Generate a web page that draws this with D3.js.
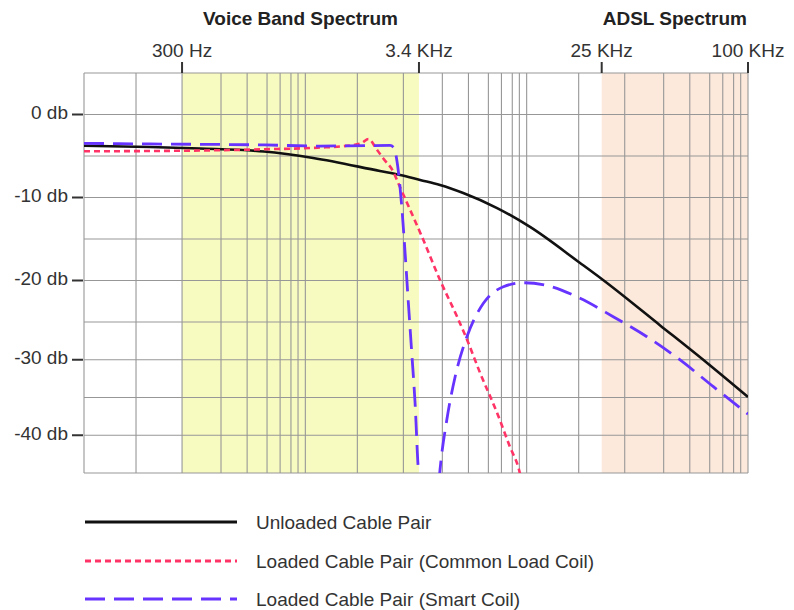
<!DOCTYPE html>
<html>
<head>
<meta charset="utf-8">
<script src="https://cdn.jsdelivr.net/npm/d3@7"></script>
<style>
  html, body { margin: 0; padding: 0; background: #fff; }
  svg { display: block; font-family: "Liberation Sans", Arial, Helvetica, sans-serif; }
</style>
</head>
<body>
<svg id="chart" width="794" height="610"></svg>
<script>
// ---------- data ----------
const freqTicks = [300, 3400, 25000, 100000];
const freqTickLabels = ["300 Hz", "3.4 KHz", "25 KHz", "100 KHz"];
const dbTicks = [0, -10, -20, -30, -40];
const dbTickLabels = ["0 db", "-10 db", "-20 db", "-30 db", "-40 db"];
const bandNames = ["Voice Band Spectrum", "ADSL Spectrum"];
const bandStart = [300, 25000];
const bandEnd = [3400, 100000];
const seriesNames = ["Unloaded Cable Pair", "Loaded Cable Pair (Common Load Coil)", "Loaded Cable Pair (Smart Coil)"];

// [frequency Hz, attenuation dB]
const unloaded = [[100,-3.76],[230,-3.92],[346,-4.10],[585,-4.46],[1150,-5.24],[2490,-6.81],[2930,-7.29],[3430,-7.89],[3940,-8.49],[4800,-9.46],[6670,-11.27],[10650,-13.55],[20300,-17.89],[25300,-19.94],[39100,-25.45],[58700,-30.43],[100000,-34.93]];
const commonLoadCoil = [[100,-4.43],[230,-4.40],[346,-4.34],[585,-4.19],[1225,-4.0],[1860,-3.73],[2100,-3.43],[2240,-2.95],[2430,-4.28],[2560,-5.28],[2780,-6.89],[2890,-8.29],[3095,-10.66],[3480,-14.76],[3940,-19.94],[4570,-24.40],[4950,-27.38],[5585,-31.75],[6670,-37.05],[7790,-41.56],[8960,-44.6],[9300,-46]];
const smartCoil = [[100,-3.47],[230,-3.55],[585,-3.67],[1225,-3.80],[2710,-3.73],[2800,-4.04],[2850,-5.24],[2900,-7.29],[2965,-11.1],[3044,-16.69],[3128,-22.71],[3215,-29.1],[3300,-35.73],[3385,-44.6],[3415,-46],null,[3915,-46],[3940,-44.6],[4170,-37.98],[4490,-32.25],[4940,-26.95],[5750,-22.75],[7180,-20.75],[9550,-20.27],[13900,-20.6],[20300,-22.14],[27500,-24.36],[35700,-26.95],[46300,-30.03],[62800,-33.57],[100000,-37.19]];

// ---------- layout ----------
const plotLeft = 84, plotRight = 748, plotTop = 73, plotBottom = 473;
const decades = [100, 1000, 10000];
// drawn position of digits 1..9 inside each decade (the reference uses a stylised log grid)
const decadeProfile = [0, 0.235, 0.443, 0.619, 0.737, 0.827, 0.886, 0.935, 0.967];
const decadeW = (plotRight - plotLeft) / decades.length;

const gridFreqs = [], gridPos = [];
decades.forEach((d, i) => {
  decadeProfile.forEach((p, k) => {
    gridFreqs.push(d * (k + 1));
    gridPos.push(plotLeft + (i + p) * decadeW);
  });
});
gridFreqs.push(100000); gridPos.push(plotRight);

const x = d3.scaleLinear().domain(gridFreqs).range(gridPos);
// db grid of the reference is slightly compressed below -25 db
const y = d3.scaleLinear().domain([5, -25, -45])
  .range([plotTop, plotTop + (plotBottom - plotTop) * 0.6225, plotBottom]);
const dbGrid = d3.range(5, -46, -5);

const svg = d3.select("#chart");

// bands
svg.append("g").selectAll("rect").data(bandNames).join("rect")
  .attr("x", (d, i) => x(bandStart[i]))
  .attr("y", plotTop)
  .attr("width", (d, i) => x(bandEnd[i]) - x(bandStart[i]))
  .attr("height", plotBottom - plotTop)
  .attr("fill", (d, i) => i === 0 ? "#f8fbc0" : "#fde9dc");

// grid
const grid = svg.append("g").attr("stroke", "#979797").attr("stroke-width", 1.1);
grid.selectAll("line.v").data(gridFreqs).join("line")
  .attr("class", "v")
  .attr("x1", d => x(d)).attr("x2", d => x(d))
  .attr("y1", plotTop).attr("y2", plotBottom);
grid.selectAll("line.h").data(dbGrid).join("line")
  .attr("class", "h")
  .attr("x1", plotLeft).attr("x2", plotRight)
  .attr("y1", d => y(d)).attr("y2", d => y(d));

// band titles
svg.append("g").selectAll("text").data(bandNames).join("text")
  .attr("x", (d, i) => (x(bandStart[i]) + x(bandEnd[i])) / 2)
  .attr("y", 25)
  .attr("text-anchor", "middle")
  .attr("font-size", 19).attr("font-weight", "bold").attr("fill", "#222")
  .text(d => d);

// top axis
const xAxis = svg.append("g");
xAxis.selectAll("line").data(freqTicks).join("line")
  .attr("x1", d => x(d)).attr("x2", d => x(d))
  .attr("y1", plotTop - 11).attr("y2", plotTop)
  .attr("stroke", "#333").attr("stroke-width", 2);
xAxis.selectAll("text").data(freqTicks).join("text")
  .attr("x", d => x(d)).attr("y", plotTop - 16)
  .attr("text-anchor", "middle")
  .attr("font-size", 19).attr("fill", "#333")
  .text((d, i) => freqTickLabels[i]);

// left axis
const yAxis = svg.append("g");
yAxis.selectAll("line").data(dbTicks).join("line")
  .attr("x1", plotLeft - 12).attr("x2", plotLeft - 1)
  .attr("y1", d => y(d)).attr("y2", d => y(d))
  .attr("stroke", "#333").attr("stroke-width", 2);
yAxis.selectAll("text").data(dbTicks).join("text")
  .attr("x", plotLeft - 16).attr("y", d => y(d) - 2)
  .attr("dy", "0.35em")
  .attr("text-anchor", "end")
  .attr("font-size", 19).attr("fill", "#333")
  .text((d, i) => dbTickLabels[i]);

// clip
svg.append("clipPath").attr("id", "plotclip")
  .append("rect").attr("x", plotLeft).attr("y", plotTop)
  .attr("width", plotRight - plotLeft).attr("height", plotBottom - plotTop);

const line = d3.line()
  .defined(d => d)
  .x(d => x(d[0])).y(d => y(d[1]))
  .curve(d3.curveMonotoneX);

const styles = [
  { data: unloaded, color: "#111", width: 2.6, dash: null },
  { data: commonLoadCoil, color: "#ff3366", width: 2.6, dash: "6,4" },
  { data: smartCoil, color: "#6633ff", width: 2.8, dash: "20,9" }
];

const plot = svg.append("g").attr("clip-path", "url(#plotclip)");
styles.forEach(s => {
  plot.append("path").datum(s.data)
    .attr("d", line)
    .attr("fill", "none")
    .attr("stroke", s.color)
    .attr("stroke-width", s.width)
    .attr("stroke-dasharray", s.dash);
});

// legend
const legendY = [522, 561, 599];
const lg = svg.append("g");
styles.forEach((s, i) => {
  lg.append("line")
    .attr("x1", 85).attr("x2", 237)
    .attr("y1", legendY[i]).attr("y2", legendY[i])
    .attr("stroke", s.color).attr("stroke-width", s.width + 0.4)
    .attr("stroke-dasharray", s.dash);
  lg.append("text")
    .attr("x", 256).attr("y", legendY[i])
    .attr("dy", "0.35em")
    .attr("font-size", 19).attr("fill", "#333")
    .text(seriesNames[i]);
});
</script>
</body>
</html>
